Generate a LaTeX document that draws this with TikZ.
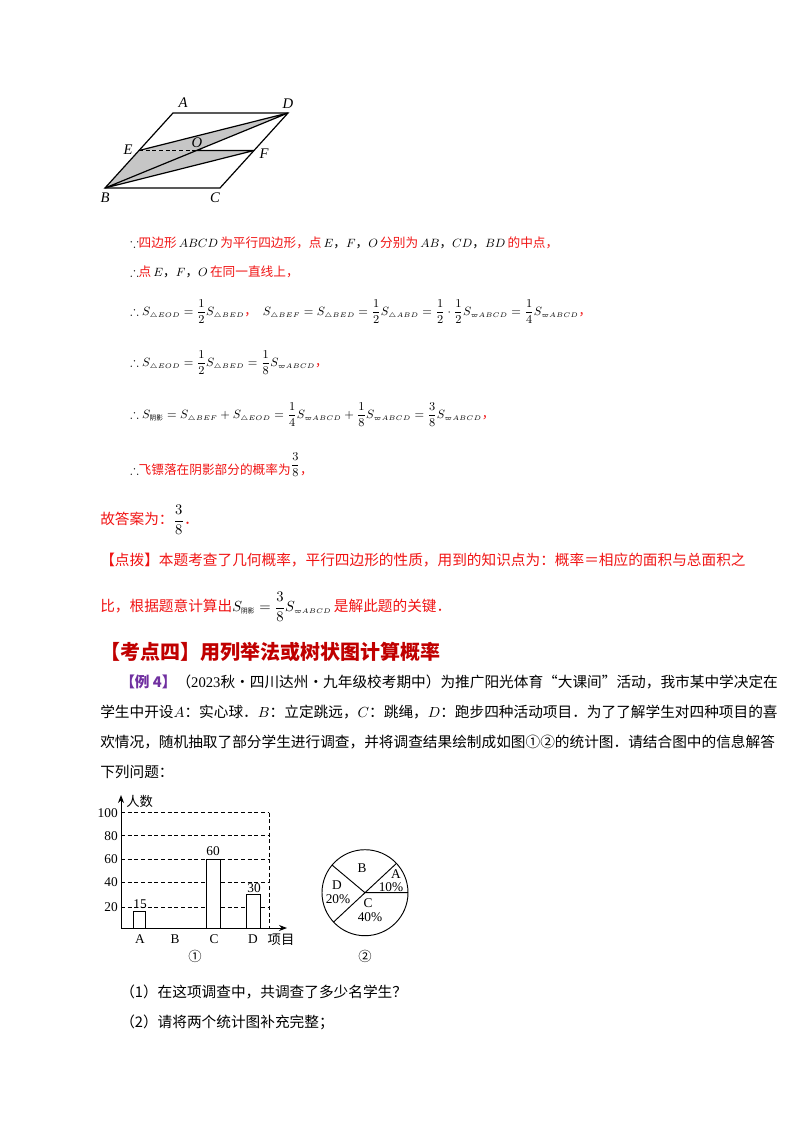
\documentclass[tikz,border=0pt]{standalone}
\usepackage{amsmath,amssymb}
\usepackage{fontspec}
\setmainfont{Noto Sans CJK SC}
\newfontfamily\tms{Liberation Serif}
\newfontfamily\cjk{Noto Sans CJK SC}
\usetikzlibrary{arrows.meta}
\definecolor{rd}{RGB}{240,20,20}
\definecolor{drd}{RGB}{192,0,0}
\definecolor{pur}{RGB}{112,48,160}
\tikzset{txt/.style={anchor=west,inner sep=0pt,font=\fontsize{11}{13}\selectfont},
 ptxt/.style={anchor=west,inner sep=0pt,font=\fontsize{9.5}{11}\selectfont},
 lab/.style={inner sep=0pt,font=\tms\itshape\fontsize{11}{12}\selectfont},
 cl/.style={inner sep=0pt,font=\tms\fontsize{10}{11}\selectfont},
 grid/.style={densely dashed,line width=0.5pt}}
\newcommand{\sub}[1]{_{\scriptscriptstyle #1}}
\begin{document}
\begin{tikzpicture}[x=0.75pt,y=-0.75pt]
\useasboundingbox (0,0) rectangle (800,1132);
% parallelogram
\coordinate (A) at (173,113); \coordinate (D) at (288,113);
\coordinate (B) at (105,188); \coordinate (C) at (220,188);
\coordinate (E) at (139,150.5); \coordinate (F) at (254,150.5);
\coordinate (O) at (196.5,150.5);
\fill[gray!45] (B)--(E)--(F)--cycle; \fill[gray!45] (E)--(O)--(D)--cycle;
\draw[line width=0.9pt] (A)--(D)--(C)--(B)--cycle;
\draw[line width=0.9pt] (B)--(D) (E)--(D) (B)--(F) (O)--(F);
\draw[line width=0.8pt,densely dashed] (E)--(O);
\node[lab] at (183,103) {A}; \node[lab] at (288,104) {D};
\node[lab] at (128,150) {E}; \node[lab] at (197,143) {O};
\node[lab] at (264,154) {F}; \node[lab] at (105,198) {B}; \node[lab] at (215,198) {C};
% proof lines
\node[ptxt] (l1) at (130,243) {$\because$\textcolor{rd}{四边形}\,$ABCD$\,\textcolor{rd}{为平行四边形，点}\,$E$，$F$，$O$\,\textcolor{rd}{分别为}\,$AB$，$CD$，$BD$\,\textcolor{rd}{的中点，}};
\node[ptxt] (l2) at (130,272) {$\therefore$\textcolor{rd}{点}\,$E$，$F$，$O$\,\textcolor{rd}{在同一直线上，}};
\node[ptxt] (l3) at (130,312) {$\therefore S\sub{\triangle EOD}=\dfrac12S\sub{\triangle BED}$\textcolor{rd}{，}\ \ $S\sub{\triangle BEF}=S\sub{\triangle BED}=\dfrac12S\sub{\triangle ABD}=\dfrac12\cdot\dfrac12S\sub{\varpi ABCD}=\dfrac14S\sub{\varpi ABCD}$\textcolor{rd}{，}};
\node[ptxt] (l4) at (130,363) {$\therefore S\sub{\triangle EOD}=\dfrac12S\sub{\triangle BED}=\dfrac18S\sub{\varpi ABCD}$\textcolor{rd}{，}};
\node[ptxt] (l5) at (130,415) {$\therefore S_{\text{\tiny 阴影}}=S\sub{\triangle BEF}+S\sub{\triangle EOD}=\dfrac14S\sub{\varpi ABCD}+\dfrac18S\sub{\varpi ABCD}=\dfrac38S\sub{\varpi ABCD}$\textcolor{rd}{，}};
\node[ptxt] (l6) at (130,465) {$\therefore$\textcolor{rd}{飞镖落在阴影部分的概率为}\raisebox{4pt}{$\dfrac38$}\textcolor{rd}{，}};
\node[txt] (l7) at (100,520) {\textcolor{rd}{故答案为：}$\dfrac38$\textcolor{rd}{．}};
\node[txt] (l8) at (100,560) {\textcolor{rd}{【点拨】本题考查了几何概率，平行四边形的性质，用到的知识点为：概率＝相应的面积与总面积之}};
\node[txt] (l9) at (100,607) {\textcolor{rd}{比，根据题意计算出}$S_{\text{\tiny 阴影}}=\dfrac38S\sub{\varpi ABCD}$\,\textcolor{rd}{是解此题的关键．}};
\node[anchor=west,inner sep=0pt,font=\bfseries\fontsize{15}{17}\selectfont,text=drd] (h) at (100,652) {【考点四】用列举法或树状图计算概率};
\node[txt] (p1) at (120,682) {\textcolor{pur}{\bfseries【例 4】}（{\tms 2023}秋·四川达州·九年级校考期中）为推广阳光体育“大课间”活动，我市某中学决定在};
\node[txt] (p2) at (100,712) {学生中开设$A$：实心球．$B$：立定跳远，$C$：跳绳，$D$：跑步四种活动项目．为了了解学生对四种项目的喜};
\node[txt] (p3) at (100,742) {欢情况，随机抽取了部分学生进行调查，并将调查结果绘制成如图①②的统计图．请结合图中的信息解答};
\node[txt] (p4) at (100,772) {下列问题：};
\node[txt] (q1) at (120,992) {（1）在这项调查中，共调查了多少名学生？};
\node[txt] (q2) at (120,1022) {（2）请将两个统计图补充完整；};
% bar chart
\coordinate (o) at (121,928);
\foreach \v/\y in {20/907,40/882.5,60/859,80/835.7,100/812.7}{
 \draw[grid] (121,\y)--(269,\y);
 \node[cl,anchor=east] at (118,\y) {\v};}
\draw[grid] (269,812.7)--(269,928);
\draw[line width=0.7pt,-{Stealth[length=6pt]}] (o)--(287,928);
\draw[line width=0.7pt,-{Stealth[length=6pt]}] (o)--(121,795);
\node[inner sep=0pt,font=\fontsize{10}{11}\selectfont,anchor=west] at (126,801) {人数};
\draw[line width=0.7pt,fill=white] (133.3,928) rectangle (145.7,911);
\draw[line width=0.7pt,fill=white] (206,928) rectangle (220.7,859);
\draw[line width=0.7pt,fill=white] (246.7,928) rectangle (260.7,894.7);
\node[cl] at (140,904) {15}; \node[cl] at (213,851) {60}; \node[cl] at (254,888) {30};
\node[cl] at (140,939) {A}; \node[cl] at (175,939) {B}; \node[cl] at (214,939) {C}; \node[cl] at (253,939) {D};
\node[inner sep=0pt,font=\fontsize{10}{11}\selectfont] at (281,940) {项目};
\node[inner sep=0pt,font=\cjk\fontsize{10}{11}\selectfont] at (195,956) {①};
% pie
\coordinate (pc) at (365,892.7);
\draw[line width=0.7pt] (pc) circle (43);
\draw[line width=0.7pt] (pc)--++(0:43) (pc)--++(-43:43) (pc)--++(-140:43) (pc)--++(-223:43);
\node[cl] at (362,868) {B}; \node[cl] at (396,874) {A}; \node[cl] at (391,887) {10\%};
\node[cl] at (337,885) {D}; \node[cl] at (338,899) {20\%};
\node[cl] at (368,903) {C}; \node[cl] at (370,917) {40\%};
\node[inner sep=0pt,font=\cjk\fontsize{10}{11}\selectfont] at (365,956) {②};
\end{tikzpicture}
\end{document}
